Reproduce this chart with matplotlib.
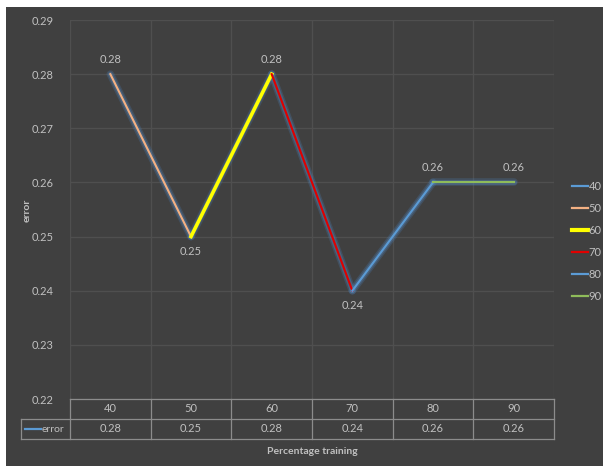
import matplotlib
matplotlib.use("Agg")
import matplotlib.pyplot as plt
from matplotlib.lines import Line2D
import matplotlib.transforms as mtransforms

# training share (%) and error per run
percent = ["40", "50", "60", "70", "80", "90"]
error = [0.28, 0.25, 0.28, 0.24, 0.26, 0.26]
point_colors = ["#5b9bd5", "#f4b183", "#ffff00", "#e00000", "#5b9bd5", "#8fbc5a"]
label_above = [True, False, True, False, True, True]

plt.rcParams["font.family"] = ["Lato", "DejaVu Sans"]

BG = "#404040"
GRID = "#4f4f4f"
TXT = "#c0c0c0"
TABLE = "#8c8c8c"

W, H = 603, 466
fig = plt.figure(figsize=(W / 100, H / 100), dpi=100, facecolor="white")
# dark chart area, leaving a thin white strip at the top and left
fig.add_artist(plt.Rectangle((6 / W, 0), 1, 1 - 7 / H, transform=fig.transFigure,
                             facecolor=BG, edgecolor="none", zorder=-5))

L, R, T, B = 70, 554, 20, 399
ax = fig.add_axes([L / W, 1 - B / H, (R - L) / W, (B - T) / H])
ax.set_facecolor(BG)
for s in ax.spines.values():
    s.set_visible(False)

x = list(range(len(percent)))
ax.set_xlim(-0.5, len(percent) - 0.5)
ax.set_ylim(0.22, 0.29)
ax.set_yticks([0.22, 0.23, 0.24, 0.25, 0.26, 0.27, 0.28, 0.29])
ax.set_yticklabels(["%.2f" % v for v in ax.get_yticks()], color=TXT, fontsize=8)
ax.tick_params(axis="y", length=0, pad=12)
ax.set_xticks([])
for v in ax.get_yticks():
    ax.axhline(v, color=GRID, lw=1, zorder=1)
for i in range(len(percent) + 1):
    ax.axvline(i - 0.5, color=GRID, lw=1, zorder=1)

# segments coloured by their end point, with a soft blue glow
for i in range(len(x) - 1):
    xs, ys = x[i:i + 2], error[i:i + 2]
    ax.plot(xs, ys, color="#4a7fb8", lw=5.5, alpha=0.25, solid_capstyle="round", zorder=2)
    ax.plot(xs, ys, color="#5b90c8", lw=3.5, alpha=0.3, solid_capstyle="round", zorder=2)
    lw = 2.6 if point_colors[i + 1] == "#ffff00" else 1.5
    ax.plot(xs, ys, color=point_colors[i + 1], lw=lw, zorder=3)

for xi, yi, up in zip(x, error, label_above):
    ax.annotate("%.2f" % yi, (xi, yi), xytext=(0, 6.5 if up else -6.5),
                textcoords="offset points", ha="center",
                va="bottom" if up else "top", color=TXT, fontsize=8)

# data table under the plot
px = mtransforms.blended_transform_factory(ax.transData, fig.transFigure)
fy = lambda p: 1 - p / H
fx = lambda p: p / W
row1, row2, row3 = 399, 419, 439
ax.add_line(Line2D([-0.5, len(x) - 0.5], [fy(row1)] * 2, transform=px,
                   color=TABLE, lw=0.9, clip_on=False))
for yy in (row2, row3):
    fig.add_artist(Line2D([fx(21), fx(R)], [fy(yy)] * 2, color=TABLE, lw=0.9))
for i in range(len(x) + 1):
    ax.add_line(Line2D([i - 0.5, i - 0.5], [fy(row1), fy(row3)], transform=px,
                       color=TABLE, lw=0.9, clip_on=False))
fig.add_artist(Line2D([fx(21), fx(21)], [fy(row2), fy(row3)], color=TABLE, lw=0.9))
for xi, p, e in zip(x, percent, error):
    ax.text(xi, fy((row1 + row2) / 2), p, transform=px, ha="center", va="center",
            color=TXT, fontsize=8)
    ax.text(xi, fy((row2 + row3) / 2), "%.2f" % e, transform=px, ha="center",
            va="center", color=TXT, fontsize=8)
fig.add_artist(Line2D([fx(25), fx(41)], [fy(429)] * 2, color="#5b9bd5", lw=1.6))
fig.text(fx(42), fy(429), "error", ha="left", va="center", color=TXT, fontsize=7.5)

fig.text((fx(L) + fx(R)) / 2, fy(451), "Percentage training", ha="center",
         va="center", color=TXT, fontsize=7.5, fontweight="bold")
fig.text(fx(27), fy(210), "error", ha="center", va="center", rotation=90,
         color=TXT, fontsize=7.5, fontweight="bold")

# legend on the right
handles = [Line2D([], [], color=c, lw=3 if c == "#ffff00" else 1.6) for c in point_colors]
leg = fig.legend(handles, percent, loc="upper left", bbox_to_anchor=(fx(566), fy(175)),
                 frameon=False, fontsize=8, labelcolor=TXT, handlelength=1.5,
                 handletextpad=0.05, labelspacing=1.0, borderpad=0)

fig.savefig("out.png", dpi=100, facecolor=fig.get_facecolor())
